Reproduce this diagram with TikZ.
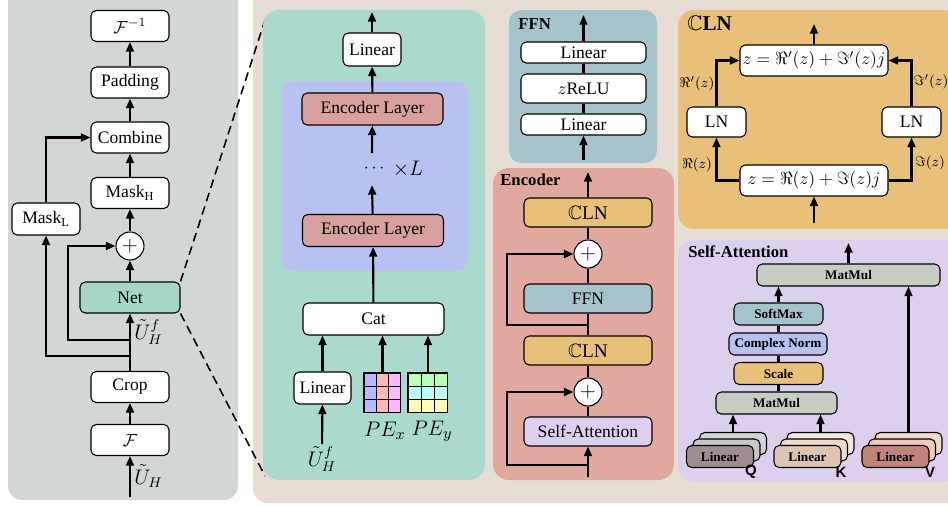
\documentclass[tikz,border=0pt]{standalone}
\usepackage{amssymb}
\usepackage{fontspec}
\setmainfont{Liberation Serif}
\newfontfamily\qkvfont{Liberation Sans}
\usetikzlibrary{arrows.meta}
\definecolor{leftgray}{RGB}{211, 215, 211}
\definecolor{rightbeige}{RGB}{230, 222, 213}
\definecolor{netteal}{RGB}{172, 217, 206}
\definecolor{nettealbox}{RGB}{166, 214, 200}
\definecolor{stacklav}{RGB}{184, 193, 240}
\definecolor{layerred}{RGB}{217, 160, 160}
\definecolor{ffnblue}{RGB}{166, 195, 204}
\definecolor{encred}{RGB}{224, 168, 158}
\definecolor{clnorange}{RGB}{232, 192, 122}
\definecolor{attnlilac}{RGB}{221, 208, 238}
\definecolor{mmgray}{RGB}{197, 205, 196}
\definecolor{pexa}{RGB}{184, 184, 255}
\definecolor{pexb}{RGB}{255, 184, 184}
\definecolor{pexc}{RGB}{255, 184, 255}
\definecolor{peya}{RGB}{184, 255, 184}
\definecolor{peyb}{RGB}{184, 255, 255}
\definecolor{peyc}{RGB}{255, 255, 184}
\definecolor{qfront}{RGB}{158, 142, 146}
\definecolor{qmid}{RGB}{200, 200, 200}
\definecolor{qback}{RGB}{212, 212, 212}
\definecolor{kfront}{RGB}{222, 196, 178}
\definecolor{kmid}{RGB}{236, 220, 208}
\definecolor{kback}{RGB}{242, 232, 224}
\definecolor{vfront}{RGB}{192, 132, 124}
\definecolor{vmid}{RGB}{240, 200, 186}
\definecolor{vback}{RGB}{245, 216, 204}

\begin{document}
\begin{tikzpicture}[x=0.02cm, y=-0.02cm,
  box/.style={draw, rounded corners=3pt, line width=0.6pt, fill=white, inner sep=0pt},
  arr/.style={-{Triangle[length=5.5pt, width=4.5pt]}, line width=1.2pt},
  ln/.style={line width=1.2pt},
  sum/.style={draw, circle, fill=white, line width=0.6pt, minimum size=0.56cm, inner sep=0pt, font=\large},
  head/.style={anchor=west, inner sep=0pt, font=\fontsize{9.5}{11}\selectfont\bfseries},
  sabox/.style={box, font=\fontsize{7.5}{9}\selectfont\bfseries, minimum height=0.44cm},
  lbl/.style={font=\footnotesize, inner sep=0pt}]
  \useasboundingbox (0,0) rectangle (948,505);

  % Backgrounds
  \fill[leftgray, rounded corners=8pt] (8,-20) rectangle (238,500);
  \fill[rightbeige, rounded corners=8pt] (253,-20) rectangle (970,503);

  % Panel left: overall pipeline (x = 130)
  \node[box, minimum width=1.56cm, minimum height=0.62cm] (finv) at (130,26) {$\mathcal{F}^{-1}$};
  \node[box, minimum width=1.56cm, minimum height=0.62cm] (pad) at (130,82.5) {Padding};
  \node[box, minimum width=1.56cm, minimum height=0.62cm] (comb) at (130,137.5) {Combine};
  \node[box, minimum width=1.56cm, minimum height=0.62cm] (maskh) at (130,193) {Mask$_{\mathrm{H}}$};
  \node[box, minimum width=1.36cm, minimum height=0.64cm] (maskl) at (46,219) {Mask$_{\mathrm{L}}$};
  \node[sum] (plus) at (130,246) {$+$};
  \node[box, fill=nettealbox, minimum width=2cm, minimum height=0.62cm] (net) at (130,297.5) {Net};
  \node[box, minimum width=1.56cm, minimum height=0.62cm] (crop) at (130,387) {Crop};
  \node[box, minimum width=1.56cm, minimum height=0.62cm] (ft) at (130,440) {$\mathcal{F}$};
  \coordinate (uin) at (130,497);
  \coordinate (b1) at (130,356);
  \coordinate (b2) at (130,340);
  \node[anchor=west, inner sep=0pt, font=\large] (uh) at (134,476) {$\tilde{U}_H$};
  \node[anchor=west, inner sep=0pt, font=\large] (uhf) at (134,332) {$\tilde{U}_H^f$};

  \draw[arr] (uin) -- (ft);
  \draw[arr] (ft) -- (crop);
  \draw[arr] (crop) -- (net);
  \draw[arr] (b1) -| (maskl);
  \draw[arr] (b2) -- ++(-62,0) |- (plus);
  \draw[arr] (net) -- (plus);
  \draw[arr] (plus) -- (maskh);
  \draw[arr] (maskh) -- (comb);
  \draw[arr] (maskl) |- (comb);
  \draw[arr] (comb) -- (pad);
  \draw[arr] (pad) -- (finv);

  % Zoom lines from Net
  \coordinate (zt) at (265,20);
  \coordinate (zb) at (265,476);
  \draw[line width=0.9pt, dash pattern=on 5pt off 3pt] (net.north east) -- (zt);
  \draw[line width=0.9pt, dash pattern=on 5pt off 3pt] (net.south east) -- (zb);

  % Panel: Net internals
  \fill[netteal, rounded corners=9pt] (263,10) rectangle (485,480);
  \fill[stacklav, rounded corners=7pt] (282,81) rectangle (468,271);
  \node[box, minimum width=1.16cm, minimum height=0.66cm] (lin1) at (372,49.5) {Linear};
  \node[box, fill=layerred, minimum width=2.82cm, minimum height=0.64cm] (enc2) at (372.5,109) {Encoder Layer};
  \node[inner sep=0pt] (dots) at (374,169) {$\cdots$};
  \node[inner sep=0pt, font=\large] (rep) at (408,169) {$\times L$};
  \node[box, fill=layerred, minimum width=2.82cm, minimum height=0.64cm] (enc1) at (373,230.5) {Encoder Layer};
  \node[box, minimum width=2.82cm, minimum height=0.64cm] (cat) at (373.5,319) {Cat};
  \node[box, minimum width=1.14cm, minimum height=0.64cm] (lin2) at (322.5,388) {Linear};
  \node[inner sep=1pt, font=\large] (uhf2) at (322,459) {$\tilde{U}_H^f$};
  \coordinate (nout) at (372,12);
  \coordinate (d1) at (372,153);
  \coordinate (d2) at (372,185);

  % PE grids
  \foreach \c/\clr in {0/pexa, 1/pexb, 2/pexc} {
    \foreach \r in {0,1,2} {
      \filldraw[fill=\clr, line width=0.6pt] ({364+12.3*\c},{373+13.3*\r}) rectangle ++(12.3,13.3);
    }
  }
  \foreach \r/\clr in {0/peya, 1/peyb, 2/peyc} {
    \foreach \c in {0,1,2} {
      \filldraw[fill=\clr, line width=0.6pt] ({408+13.3*\c},{373+13.3*\r}) rectangle ++(13.3,13.3);
    }
  }
  \node[minimum width=0.74cm, minimum height=0.8cm, inner sep=0pt] (pex) at (382.5,393) {};
  \node[minimum width=0.8cm, minimum height=0.8cm, inner sep=0pt] (pey) at (428,393) {};
  \node[inner sep=0pt, font=\fontsize{13}{15}\selectfont] (pexl) at (385,431) {$PE_x$};
  \node[inner sep=0pt, font=\fontsize{13}{15}\selectfont] (peyl) at (432,431) {$PE_y$};

  \draw[arr] (uhf2) -- (lin2);
  \draw[arr] (lin2.north) -- (lin2.north |- cat.south);
  \draw[arr] (pex.north) -- (pex.north |- cat.south);
  \draw[arr] (pey.north) -- (pey.north |- cat.south);
  \draw[arr] (cat) -- (enc1);
  \draw[arr] (enc1) -- (d2);
  \draw[arr] (d1) -- (enc2);
  \draw[arr] (enc2) -- (lin1);
  \draw[arr] (lin1) -- (nout);

  % Panel: FFN
  \fill[ffnblue, rounded corners=7pt] (509,10) rectangle (657,163);
  \node[head] (ffnhead) at (518,24) {FFN};
  \node[box, minimum width=2.5cm, minimum height=0.42cm] (fl1) at (583.5,52.5) {Linear};
  \node[box, minimum width=2.5cm, minimum height=0.58cm] (frelu) at (583.5,88.5) {$z$ReLU};
  \node[box, minimum width=2.5cm, minimum height=0.42cm] (fl2) at (583.5,124.5) {Linear};
  \coordinate (fin) at (583.5,160);
  \coordinate (fout) at (583.5,15);
  \draw[arr] (fin) -- (fl2);
  \draw[ln] (fl2) -- (frelu);
  \draw[ln] (frelu) -- (fl1);
  \draw[arr] (fl1) -- (fout);

  % Panel: Encoder
  \fill[encred, rounded corners=9pt] (493,168) rectangle (674,480);
  \node[head] (enchead) at (500,180) {Encoder};
  \node[box, fill=clnorange, minimum width=2.56cm, minimum height=0.58cm, font=\fontsize{11}{13}\selectfont] (cln2) at (588,212.5) {$\mathbb{C}$LN};
  \node[sum] (plus2) at (588,254) {$+$};
  \node[box, fill=ffnblue, minimum width=2.56cm, minimum height=0.58cm] (effn) at (588,298.5) {FFN};
  \node[box, fill=clnorange, minimum width=2.56cm, minimum height=0.58cm, font=\fontsize{11}{13}\selectfont] (cln1) at (588,350.5) {$\mathbb{C}$LN};
  \node[sum] (plus1) at (588,392) {$+$};
  \node[box, fill=attnlilac, minimum width=2.56cm, minimum height=0.58cm] (sa) at (588,431.5) {Self-Attention};
  \coordinate (ein) at (588,477);
  \coordinate (eout) at (588,172);
  \coordinate (r1) at (588,465);
  \coordinate (r2) at (588,325);
  \draw[arr] (ein) -- (sa);
  \draw[arr] (r1) -- ++(-81,0) |- (plus1);
  \draw[ln] (sa) -- (plus1);
  \draw[ln] (plus1) -- (cln1);
  \draw[ln] (cln1) -- (effn);
  \draw[arr] (r2) -- ++(-81,0) |- (plus2);
  \draw[ln] (effn) -- (plus2);
  \draw[ln] (plus2) -- (cln2);
  \draw[arr] (cln2) -- (eout);

  % Panel: CLN
  \fill[clnorange, rounded corners=9pt] (678,10) rectangle (960,229);
  \node[head, font=\large\bfseries] (clnhead) at (687,23) {$\mathbb{C}$LN};
  \node[box, minimum width=2.96cm, minimum height=0.62cm] (ztop) at (814,60.5) {$z=\Re'(z)+\Im'(z)j$};
  \node[box, minimum width=2.96cm, minimum height=0.62cm] (zbot) at (814,180.5) {$z=\Re(z)+\Im(z)j$};
  \node[box, minimum width=1.18cm, minimum height=0.6cm] (lnl) at (716.5,122) {LN};
  \node[box, minimum width=1.18cm, minimum height=0.6cm] (lnr) at (911.5,122) {LN};
  \node[lbl] (rel) at (697,165) {$\Re(z)$};
  \node[lbl] (rel2) at (697,84) {$\Re'(z)$};
  \node[lbl] (iml) at (930,163) {$\Im(z)$};
  \node[lbl] (iml2) at (931,82) {$\Im'(z)$};
  \coordinate (cin) at (814,223);
  \coordinate (cout) at (814,24);
  \draw[arr] (cin) -- (zbot);
  \draw[arr] (zbot) -| (lnl);
  \draw[arr] (zbot) -| (lnr);
  \draw[arr] (lnl) |- (ztop);
  \draw[arr] (lnr) |- (ztop);
  \draw[arr] (ztop) -- (cout);

  % Panel: Self-Attention
  \fill[attnlilac, rounded corners=9pt] (678,240) rectangle (960,482);
  \node[head] (sahead) at (688,252) {Self-Attention};
  \node[sabox, fill=mmgray, minimum width=3.66cm] (mm2) at (848.5,275) {MatMul};
  \node[sabox, fill=ffnblue, minimum width=1.78cm] (smax) at (778.5,314) {SoftMax};
  \node[sabox, fill=stacklav, minimum width=1.96cm] (cnorm) at (778,344) {Complex Norm};
  \node[sabox, fill=clnorange, minimum width=1.78cm] (scale) at (778.5,373.5) {Scale};
  \node[sabox, fill=mmgray, minimum width=2.42cm] (mm1) at (776.5,403) {MatMul};
  \coordinate (saout) at (848.5,243);

  % Q, K, V linear stacks
  \foreach \n/\cx/\ca/\cb/\cc in {q/720/qback/qmid/qfront, k/807.5/kback/kmid/kfront, v/895.5/vback/vmid/vfront} {
    \node[sabox, fill=\ca, minimum width=1.34cm] (\n3) at ({\cx+13},443.5) {};
    \node[sabox, fill=\cb, minimum width=1.34cm] (\n2) at ({\cx+6.5},450) {};
    \node[sabox, fill=\cc, minimum width=1.34cm] (\n1) at (\cx,456.5) {Linear};
  }
  \node[font=\qkvfont\bfseries\fontsize{8.5}{10}\selectfont, inner sep=0pt] (ql) at (751,472) {Q};
  \node[font=\qkvfont\bfseries\fontsize{8.5}{10}\selectfont, inner sep=0pt] (kl) at (841,472) {K};
  \node[font=\qkvfont\bfseries\fontsize{8.5}{10}\selectfont, inner sep=0pt] (vl) at (930,472) {V};

  \draw[arr] (q3.north) -- (q3.north |- mm1.south);
  \draw[arr] (k3.north) -- (k3.north |- mm1.south);
  \draw[arr] (v3.north) -- (v3.north |- mm2.south);
  \draw[ln] (mm1.north -| scale) -- (scale);
  \draw[ln] (scale) -- (scale.north |- cnorm.south);
  \draw[ln] (cnorm.north -| smax) -- (smax);
  \draw[arr] (smax.north) -- (smax.north |- mm2.south);
  \draw[arr] (mm2) -- (saout);
\end{tikzpicture}
\end{document}
